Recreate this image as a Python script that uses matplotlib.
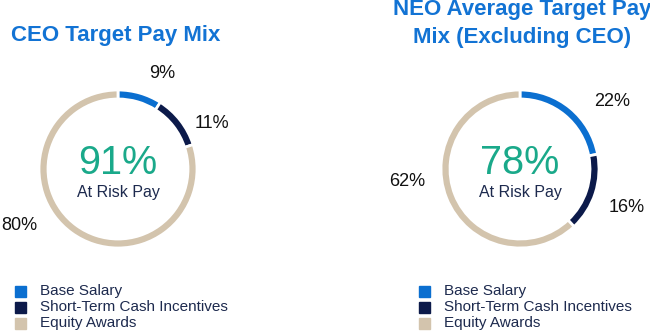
import matplotlib.pyplot as plt
from matplotlib.patches import Rectangle

plt.rcParams['font.family'] = ['Liberation Sans', 'DejaVu Sans']

categories = ['Base Salary', 'Short-Term Cash Incentives', 'Equity Awards']
ceo_mix = [9, 11, 80]
neo_mix = [22, 16, 62]
ceo_at_risk = 91
neo_at_risk = 78
ceo_title = ['CEO Target Pay Mix']
neo_title = ['NEO Average Target Pay', 'Mix (Excluding CEO)']

colors = ['#0b6fd0', '#0c1a4a', '#d3c4ad']
blue_title = '#1273d4'
green = '#1aa98a'
navy_text = '#1d2a4e'

W, H = 650, 332
fig = plt.figure(figsize=(6.5, 3.32), dpi=100)
ax = fig.add_axes([0, 0, 1, 1])


def donut(values, at_risk, cx, cy, label_pos):
    ax.pie(values, colors=colors, startangle=90, counterclock=False,
           radius=79, center=(cx, H - cy),
           wedgeprops=dict(width=9, edgecolor='white', linewidth=2))
    ax.text(cx, H - cy + 6, f'{at_risk}%', color=green, fontsize=28.5,
            ha='center', va='center')
    ax.text(cx, H - cy - 23, 'At Risk Pay', color=navy_text, fontsize=11.5,
            ha='center', va='center')
    for v, (lx, ly) in zip(values, label_pos):
        ax.text(lx, H - ly, f'{v}%', color='#111111', fontsize=13,
                ha='center', va='center')


donut(ceo_mix, ceo_at_risk, 118, 169, [(162, 74), (212, 123), (19, 225)])
donut(neo_mix, neo_at_risk, 520, 169, [(612, 101), (627, 208), (407, 181)])


def title(lines, cx, y0, step):
    for i, line in enumerate(lines):
        ax.text(cx, H - (y0 + i * step), line, color=blue_title, fontsize=16,
                fontweight='bold', ha='center', va='center')


title(ceo_title, 116, 36, 0)
title(neo_title, 522, 9, 29)


def legend(x0, y0):
    for i, (name, c) in enumerate(zip(categories, colors)):
        y = y0 + i * 16
        ax.add_patch(Rectangle((x0, H - y - 5.5), 11, 11, color=c))
        ax.text(x0 + 25, H - y, name, color=navy_text, fontsize=11,
                ha='left', va='center')


legend(15, 291)
legend(419, 291)

ax.set_xlim(0, W)
ax.set_ylim(0, H)
ax.set_aspect('auto')
ax.axis('off')

fig.savefig('out.png', dpi=100, facecolor='white')
